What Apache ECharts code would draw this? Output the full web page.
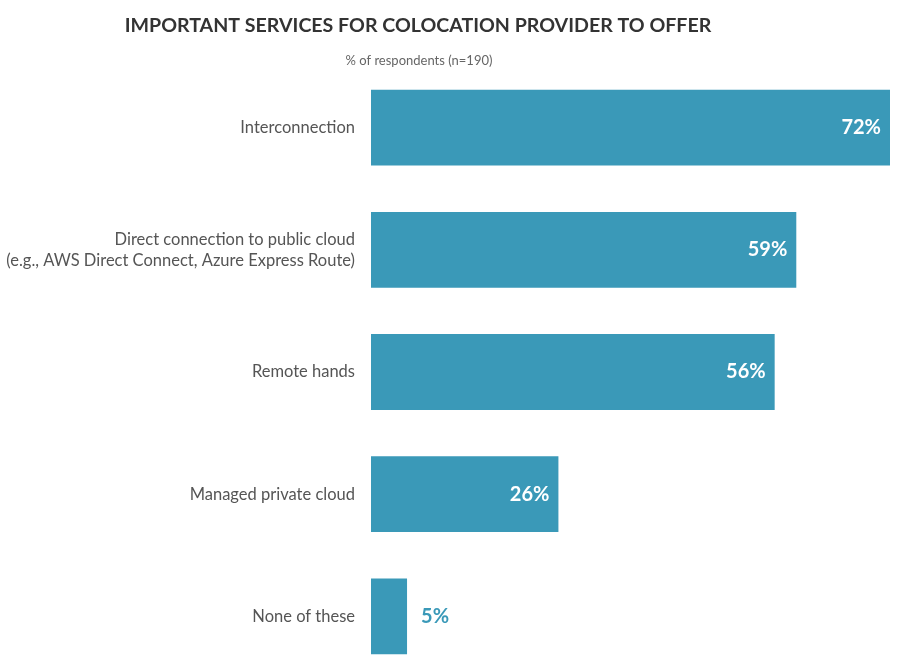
<!DOCTYPE html>
<html><head><meta charset="utf-8">
<script src="https://cdn.jsdelivr.net/npm/echarts@6/dist/echarts.min.js"></script>
<style>html,body{margin:0;padding:0;background:#fff}#c{width:900px;height:670px}</style>
</head><body><div id="c"></div>
<script>
const categories = ["Interconnection", "Direct connection to public cloud\n(e.g., AWS Direct Connect, Azure Express Route)", "Remote hands", "Managed private cloud", "None of these"];
const values = [72, 59, 56, 26, 5];
const insideFlags = [true, true, true, true, false];
const barColor = '#3a99b8';
const chart = echarts.init(document.getElementById('c'));
chart.setOption({
  animation: false,
  title: [
    {text: 'IMPORTANT SERVICES FOR COLOCATION PROVIDER TO OFFER', left: 413, top: 11, textAlign: 'center',
     textStyle: {fontFamily: 'Lato', fontSize: 19.6, fontWeight: 'bold', color: '#333'}},
    {text: '% of respondents (n=190)', left: 414, top: 49, textAlign: 'center',
     textStyle: {fontFamily: 'Lato', fontSize: 13, fontWeight: 'normal', color: '#666'}}
  ],
  grid: {left: 371, width: 519, top: 66.5, height: 611, containLabel: false, outerBoundsMode: 'none'},
  xAxis: {type: 'value', min: 0, max: 72, show: false},
  yAxis: {type: 'category', data: categories, inverse: true,
    axisLine: {show: false}, axisTick: {show: false},
    axisLabel: {margin: 16, fontFamily: 'Lato', fontSize: 16.5, color: '#555', lineHeight: 21, align: 'right'}},
  series: [{
    type: 'bar', barCategoryGap: '38%',
    data: values.map((v, i) => ({
      value: v,
      label: insideFlags[i]
        ? {show: true, position: 'insideRight', distance: 9, color: '#fff'}
        : {show: true, position: 'right', distance: 14, color: barColor}
    })),
    itemStyle: {color: barColor},
    label: {show: true, formatter: '{c}%', fontFamily: 'Lato', fontSize: 20, fontWeight: 'bold'}
  }]
});
</script></body></html>
